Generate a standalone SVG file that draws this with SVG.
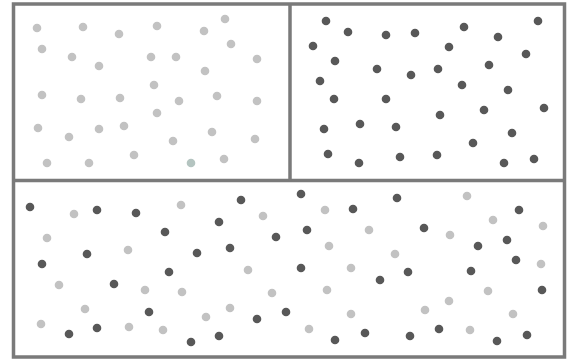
<svg xmlns="http://www.w3.org/2000/svg" width="569" height="364" viewBox="0 0 569 364">
<style>
.frame{fill:none;stroke:#7a7a7a;stroke-width:3.5}
.l{fill:#c2c2c2}
.d{fill:#585858}
</style>
<defs>
<circle id="p" r="4.3"/>
</defs>
<rect x="0" y="0" width="569" height="364" fill="#ffffff"/>
<g id="frame">
<rect class="frame" x="13.5" y="4" width="551" height="353"/>
<line class="frame" x1="13.5" y1="180.5" x2="564.5" y2="180.5"/>
<line class="frame" x1="290" y1="4" x2="290" y2="180.5"/>
</g>
<g id="panel-top-left" class="l">
<use href="#p" x="37" y="28"/><use href="#p" x="83" y="27"/><use href="#p" x="119" y="34"/><use href="#p" x="157" y="26"/><use href="#p" x="204" y="31"/><use href="#p" x="225" y="19"/>
<use href="#p" x="42" y="49"/><use href="#p" x="72" y="57"/><use href="#p" x="99" y="66"/><use href="#p" x="151" y="57"/><use href="#p" x="176" y="57"/><use href="#p" x="231" y="44"/>
<use href="#p" x="205" y="71"/><use href="#p" x="257" y="59"/><use href="#p" x="154" y="85"/><use href="#p" x="42" y="95"/><use href="#p" x="81" y="99"/><use href="#p" x="120" y="98"/>
<use href="#p" x="179" y="101"/><use href="#p" x="217" y="96"/><use href="#p" x="257" y="101"/><use href="#p" x="157" y="113"/><use href="#p" x="38" y="128"/><use href="#p" x="69" y="137"/>
<use href="#p" x="99" y="129"/><use href="#p" x="124" y="126"/><use href="#p" x="173" y="141"/><use href="#p" x="212" y="132"/><use href="#p" x="255" y="139"/><use href="#p" x="47" y="163"/>
<use href="#p" x="89" y="163"/><use href="#p" x="134" y="155"/><use href="#p" x="191" y="163" fill="#b4c4c0"/><use href="#p" x="224" y="159"/>
</g>
<g id="panel-top-right" class="d">
<use href="#p" x="326" y="21"/><use href="#p" x="348" y="32"/><use href="#p" x="386" y="35"/><use href="#p" x="415" y="33"/><use href="#p" x="464" y="27"/><use href="#p" x="538" y="21"/>
<use href="#p" x="313" y="46"/><use href="#p" x="449" y="47"/><use href="#p" x="498" y="37"/><use href="#p" x="526" y="54"/><use href="#p" x="335" y="61"/><use href="#p" x="377" y="69"/>
<use href="#p" x="411" y="75"/><use href="#p" x="438" y="69"/><use href="#p" x="489" y="65"/><use href="#p" x="320" y="81"/><use href="#p" x="462" y="85"/><use href="#p" x="508" y="90"/>
<use href="#p" x="334" y="99"/><use href="#p" x="386" y="99"/><use href="#p" x="440" y="115"/><use href="#p" x="484" y="110"/><use href="#p" x="544" y="108"/><use href="#p" x="324" y="129"/>
<use href="#p" x="360" y="124"/><use href="#p" x="396" y="127"/><use href="#p" x="512" y="133"/><use href="#p" x="473" y="143"/><use href="#p" x="328" y="154"/><use href="#p" x="359" y="163"/>
<use href="#p" x="400" y="157"/><use href="#p" x="437" y="155"/><use href="#p" x="504" y="163"/><use href="#p" x="534" y="159"/>
</g>
<g id="panel-bottom">
<g class="d">
<use href="#p" x="30" y="207"/><use href="#p" x="97" y="210"/><use href="#p" x="136" y="213"/><use href="#p" x="241" y="200"/><use href="#p" x="219" y="222"/><use href="#p" x="165" y="232"/>
<use href="#p" x="276" y="237"/><use href="#p" x="87" y="254"/><use href="#p" x="197" y="253"/><use href="#p" x="230" y="248"/><use href="#p" x="42" y="264"/><use href="#p" x="169" y="272"/>
<use href="#p" x="114" y="284"/><use href="#p" x="149" y="312"/><use href="#p" x="257" y="319"/><use href="#p" x="286" y="312"/><use href="#p" x="69" y="334"/><use href="#p" x="97" y="328"/>
<use href="#p" x="191" y="342"/><use href="#p" x="219" y="336"/>
<use href="#p" x="301" y="194"/><use href="#p" x="353" y="209"/><use href="#p" x="397" y="198"/><use href="#p" x="519" y="210"/><use href="#p" x="307" y="230"/><use href="#p" x="424" y="228"/>
<use href="#p" x="478" y="246"/><use href="#p" x="507" y="240"/><use href="#p" x="516" y="260"/><use href="#p" x="301" y="268"/><use href="#p" x="408" y="272"/><use href="#p" x="380" y="280"/>
<use href="#p" x="471" y="271"/><use href="#p" x="542" y="290"/><use href="#p" x="365" y="333"/><use href="#p" x="335" y="340"/><use href="#p" x="410" y="336"/><use href="#p" x="439" y="329"/>
<use href="#p" x="497" y="341"/><use href="#p" x="527" y="335"/>
</g>
<g class="l">
<use href="#p" x="74" y="214"/><use href="#p" x="181" y="205"/><use href="#p" x="263" y="216"/><use href="#p" x="47" y="238"/><use href="#p" x="128" y="250"/><use href="#p" x="248" y="270"/>
<use href="#p" x="59" y="285"/><use href="#p" x="145" y="290"/><use href="#p" x="182" y="292"/><use href="#p" x="272" y="293"/><use href="#p" x="85" y="309"/><use href="#p" x="206" y="317"/>
<use href="#p" x="230" y="308"/><use href="#p" x="41" y="324"/><use href="#p" x="129" y="327"/><use href="#p" x="163" y="330"/>
<use href="#p" x="325" y="210"/><use href="#p" x="467" y="196"/><use href="#p" x="493" y="220"/><use href="#p" x="543" y="226"/><use href="#p" x="369" y="230"/><use href="#p" x="450" y="235"/>
<use href="#p" x="329" y="246"/><use href="#p" x="395" y="254"/><use href="#p" x="351" y="268"/><use href="#p" x="541" y="264"/><use href="#p" x="327" y="290"/><use href="#p" x="488" y="291"/>
<use href="#p" x="449" y="301"/><use href="#p" x="351" y="314"/><use href="#p" x="425" y="310"/><use href="#p" x="513" y="314"/><use href="#p" x="309" y="329"/><use href="#p" x="470" y="330"/>
</g>
</g>
</svg>
